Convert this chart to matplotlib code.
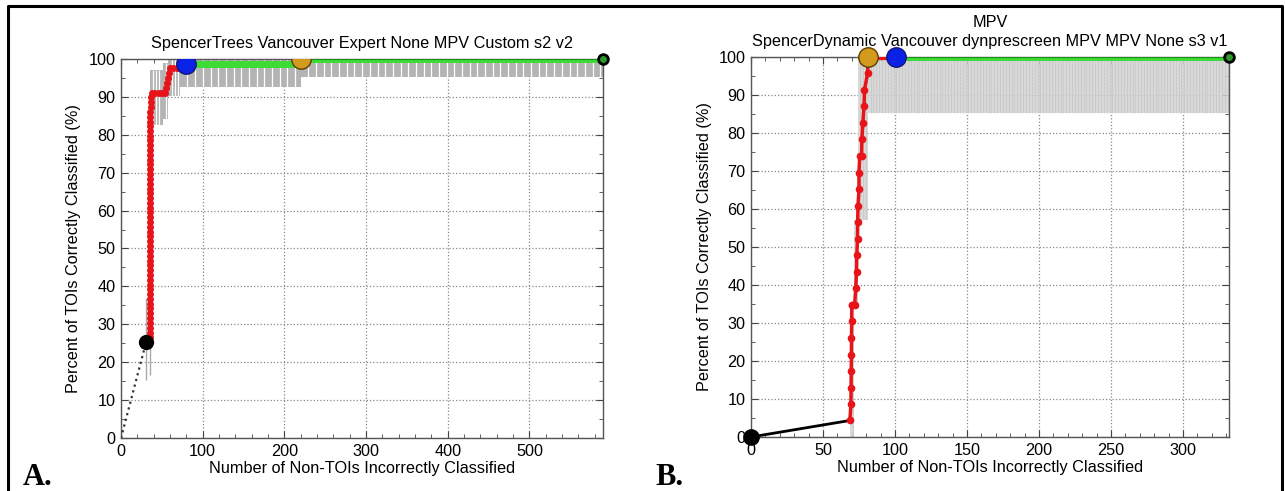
import numpy as np
import matplotlib.pyplot as plt
from matplotlib.lines import Line2D
from matplotlib.ticker import MultipleLocator

plt.rcParams['font.family'] = ['Liberation Sans', 'DejaVu Sans']

# ---------------- Panel A data ----------------
a_far_x = [0, 30.6]
a_far_y = [0, 25.2]
a_red_x = [35.5] * 39 + [36.0] * 9 + [36.5] * 3 + [38.5, 42, 46, 50, 54, 55.5, 56.5, 57.5, 58.5, 60, 64, 68, 72, 79.7]
a_red_y = [26.6, 27.8, 29.1, 30.4, 31.6, 32.9, 34.2, 35.4, 36.7, 38.0, 39.2, 40.5, 41.8,
           43.0, 44.3, 45.6, 46.8, 48.1, 49.4, 50.6, 51.9, 53.2, 54.4, 55.7, 57.0, 58.2,
           59.5, 60.8, 62.0, 63.3, 64.6, 65.8, 67.1, 68.4, 69.6, 70.9, 72.2, 73.4, 74.7,
           75.9, 77.2, 78.5, 79.7, 81.0, 82.3, 83.5, 84.8, 86.1,
           87.3, 88.6, 89.9,
           91.1, 91.1, 91.1, 91.1, 91.1, 92.4, 93.7, 94.9, 96.2, 97.5, 97.5, 97.5, 97.5, 98.7]
a_green_x = [79.7, 220, 220, 590]
a_green_y = [98.7, 98.7, 100, 100]
a_blue = (79.7, 98.7)
a_orange = (220.5, 100)
a_end = (590, 100)
# error band: step edges, lower and upper bounds
a_band_edges = [35, 51, 58, 72, 220, 590]
a_band_low = [82.5, 84.3, 90.2, 92.6, 95.2]
a_band_high = [97.0, 99.0, 100, 100, 100]
a_err_x = [30.6, 36.0]
a_err_low = [15.3, 16.5]
a_err_high = [37.0, 26.0]

# ---------------- Panel B data ----------------
b_far_x = [0, 68.7]
b_far_y = [0, 4.35]
b_red_x = [68.7, 69.4, 69.5, 69.6, 69.7, 69.8, 69.9, 70.0, 70.0, 72.0, 72.7, 73.3, 73.5,
           74.0, 74.1, 74.3, 75.0, 75.0, 75.5, 76.8, 77.0, 77.7, 78.5, 78.8, 81.0, 81.2]
b_red_y = [4.35, 8.7, 13.0, 17.4, 21.7, 26.1, 30.4, 34.8, 34.8, 34.8, 39.1, 43.5, 47.8,
           52.2, 56.5, 60.9, 65.2, 69.6, 73.9, 73.9, 78.3, 82.6, 87.0, 91.3, 95.7, 100]
b_top_x = [81.2, 100.5]
b_green_x = [100.5, 332]
b_green_y = [100, 100]
b_orange = (81.2, 100)
b_blue = (100.5, 100)
b_end = (332, 100)
b_band_edges = [69, 71.5, 74, 81, 332]
b_band_low = [0, 35, 57, 85.2]
b_band_high = [35, 57, 100, 100]

red = '#e8141a'
green = '#3cdc34'
fs = 11.7

fig = plt.figure(figsize=(12.85, 4.91), dpi=100)
axA = fig.add_axes([121 / 1285, 1 - 438 / 491, (603 - 121) / 1285, (438 - 59) / 491])
axB = fig.add_axes([751 / 1285, 1 - 437 / 491, (1229 - 751) / 1285, (437 - 57) / 491])


def style(ax, xmax, xmaj, xmin):
    ax.set_xlim(0, xmax)
    ax.set_ylim(0, 100)
    ax.xaxis.set_major_locator(MultipleLocator(xmaj))
    ax.xaxis.set_minor_locator(MultipleLocator(xmin))
    ax.yaxis.set_major_locator(MultipleLocator(10))
    ax.yaxis.set_minor_locator(MultipleLocator(5))
    ax.tick_params(which='both', direction='in', top=True, right=True,
                   labelsize=fs, color='#444', pad=4)
    ax.tick_params(which='major', length=5)
    ax.tick_params(which='minor', length=3)
    ax.set_axisbelow(True)
    ax.grid(True, which='major', ls=':', color='#888', lw=0.9)
    for s in ax.spines.values():
        s.set_color('#555')
        s.set_linewidth(1.0)
    ax.set_xlabel('Number of Non-TOIs Incorrectly Classified', fontsize=fs, labelpad=2)
    ax.set_ylabel('Percent of TOIs Correctly Classified (%)', fontsize=fs, labelpad=5)


# ---------------- Panel A ----------------
style(axA, 590, 100, 20)
for i in range(len(a_band_low)):
    x0, x1 = a_band_edges[i], a_band_edges[i + 1]
    axA.fill_between([x0, x1], a_band_low[i], a_band_high[i], color='#b4b4b4', lw=0, zorder=1)
    step = 4 if x1 <= 72 else 9.4
    axA.vlines(np.arange(x0, x1, step)[1:], a_band_low[i], a_band_high[i],
               color='white', lw=0.9, zorder=1.2)
axA.vlines(a_err_x, a_err_low, a_err_high, color='#aaaaaa', lw=1, zorder=1)
axA.plot(a_far_x, a_far_y, ls=':', color='#333', lw=1.6, zorder=3)
axA.plot(a_green_x, a_green_y, color=green, lw=5, zorder=3, solid_capstyle='butt')
axA.plot(a_green_x[2:], a_green_y[2:], color='#1c8c1c', lw=0.8, zorder=3.1)
axA.plot(a_red_x, a_red_y, color=red, lw=2, marker='o', ms=4, mec=red, zorder=4)
axA.plot(*a_far_x[1:], a_far_y[1], 'o', color='black', ms=10, zorder=5)
axA.plot(*a_blue, 'o', mfc='#0a22e6', mec='#14147a', ms=14, zorder=6)
axA.plot(*a_orange, 'o', mfc='#d39a1e', mec='#5a4000', ms=14, zorder=6)
axA.plot(*a_end, 'o', mfc='#2a9a2a', mec='black', ms=7, mew=2, zorder=6, clip_on=False)
axA.set_title('SpencerTrees Vancouver Expert None MPV Custom s2 v2', fontsize=fs, pad=8)

# ---------------- Panel B ----------------
style(axB, 332, 50, 10)
for i in range(len(b_band_low)):
    x0, x1 = b_band_edges[i], b_band_edges[i + 1]
    axB.fill_between([x0, x1], b_band_low[i], b_band_high[i], color='#d2d2d2',
                     alpha=0.85, lw=0, zorder=1)
    axB.vlines(np.arange(x0, x1, 2)[1:], b_band_low[i], b_band_high[i],
               color='#c2c2c2', lw=0.4, zorder=1.1)
axB.plot(b_far_x, b_far_y, color='black', lw=2, zorder=3)
axB.plot(b_green_x, b_green_y, color=green, lw=5, zorder=3, solid_capstyle='butt')
axB.plot(b_green_x, b_green_y, color='#1c8c1c', lw=0.8, zorder=3.1)
axB.plot(b_top_x, [100, 100], color=red, lw=4.5, zorder=3)
axB.plot(b_red_x, b_red_y, color=red, lw=2.5, marker='o', ms=4.5, mec=red, zorder=4)
axB.plot(b_far_x[0], b_far_y[0], 'o', color='black', ms=11, zorder=5, clip_on=False)
axB.plot(*b_orange, 'o', mfc='#d39a1e', mec='#5a4000', ms=14, zorder=6, clip_on=False)
axB.plot(*b_blue, 'o', mfc='#0a22e6', mec='#14147a', ms=14, zorder=6, clip_on=False)
axB.plot(*b_end, 'o', mfc='#2a9a2a', mec='black', ms=7, mew=2, zorder=6, clip_on=False)
axB.set_title('MPV\nSpencerDynamic Vancouver dynprescreen MPV MPV None s3 v1',
              fontsize=fs, pad=8, linespacing=1.3)

# panel letters and outer frame (left, top, right edges)
fig.text(23 / 1285, 1 - 485 / 491, 'A.', family='Liberation Serif', weight='bold', fontsize=22)
fig.text(655 / 1285, 1 - 485 / 491, 'B.', family='Liberation Serif', weight='bold', fontsize=22)
fx = [8 / 1285, 8 / 1285, 1282 / 1285, 1282 / 1285]
fy = [0, 1 - 6 / 491, 1 - 6 / 491, 0]
fig.add_artist(Line2D(fx, fy, transform=fig.transFigure, color='black', lw=2.2))

fig.savefig('out.png', dpi=100)
